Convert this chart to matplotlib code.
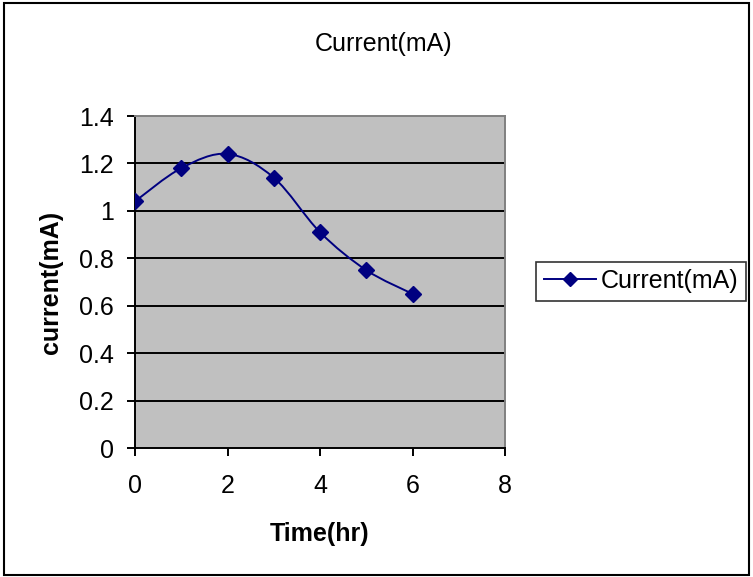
import matplotlib.pyplot as plt
from matplotlib.path import Path
from matplotlib.patches import PathPatch, Rectangle
from matplotlib.lines import Line2D

plt.rcParams["font.family"] = ["Liberation Sans", "DejaVu Sans"]

time_hr = [0, 1, 2, 3, 4, 5, 6]
current_ma = [1.04, 1.18, 1.24, 1.14, 0.91, 0.75, 0.65]
x_ticks = [0, 2, 4, 6, 8]
y_ticks = [0, 0.2, 0.4, 0.6, 0.8, 1.0, 1.2, 1.4]
y_tick_labels = ["0", "0.2", "0.4", "0.6", "0.8", "1", "1.2", "1.4"]

NAVY = "#000080"
FS = 18


def smooth_path(xs, ys):
    # cubic Bezier through every point, tangents from neighbouring points
    n = len(xs)
    verts = [(xs[0], ys[0])]
    codes = [Path.MOVETO]
    for i in range(n - 1):
        i0 = max(i - 1, 0)
        i3 = min(i + 2, n - 1)
        c1 = (xs[i] + (xs[i + 1] - xs[i0]) / 6, ys[i] + (ys[i + 1] - ys[i0]) / 6)
        c2 = (xs[i + 1] - (xs[i3] - xs[i]) / 6, ys[i + 1] - (ys[i3] - ys[i]) / 6)
        verts += [c1, c2, (xs[i + 1], ys[i + 1])]
        codes += [Path.CURVE4] * 3
    return Path(verts, codes)


fig = plt.figure(figsize=(7.53, 5.77), dpi=100)
fig.patches.append(Rectangle((0.005, 0.004), 0.99, 0.99, transform=fig.transFigure,
                             fill=False, edgecolor="black", linewidth=1.5))

ax = fig.add_axes([135 / 753, 1 - 448 / 577, 370 / 753, 332 / 577])
ax.set_facecolor("#c0c0c0")
ax.set_xlim(0, 8)
ax.set_ylim(0, 1.4)

for y in y_ticks[1:-1]:
    ax.axhline(y, color="black", linewidth=1.4, zorder=1)

ax.add_patch(PathPatch(smooth_path(time_hr, current_ma), fill=False,
                       edgecolor=NAVY, linewidth=1.4, zorder=3))
ax.plot(time_hr, current_ma, linestyle="none", marker="D", markersize=8,
        color=NAVY, zorder=4)

ax.set_xticks(x_ticks)
ax.set_yticks(y_ticks)
ax.set_yticklabels(y_tick_labels)
ax.tick_params(direction="out", length=6, width=1.4, labelsize=FS)
ax.tick_params(axis="x", pad=13)
ax.tick_params(axis="y", pad=9)
for side in ("left", "bottom"):
    ax.spines[side].set_linewidth(1.4)
    ax.spines[side].set_color("black")
for side in ("top", "right"):
    ax.spines[side].set_linewidth(1.4)
    ax.spines[side].set_color("#808080")

ax.set_xlabel("Time(hr)", fontsize=FS, fontweight="bold")
ax.set_ylabel("current(mA)", fontsize=FS, fontweight="bold")
ax.xaxis.set_label_coords(320 / 753, 1 - 522 / 577, transform=fig.transFigure)
ax.yaxis.set_label_coords(63 / 753, 1 - 282 / 577, transform=fig.transFigure)
fig.text(384 / 753, 1 - 44 / 577, "Current(mA)", ha="center", va="center", fontsize=FS)

handle = Line2D([], [], color=NAVY, marker="D", markersize=7, linewidth=1.4)
leg = fig.legend([handle], ["Current(mA)"], loc="center left",
                 bbox_to_anchor=(536 / 753, 1 - 281 / 577), fontsize=FS,
                 frameon=True, fancybox=False, edgecolor="black",
                 handlelength=2.1, borderpad=0.3, handletextpad=0.2,
                 borderaxespad=0)
leg.get_frame().set_linewidth(1.2)

fig.savefig("out.png", dpi=100)
